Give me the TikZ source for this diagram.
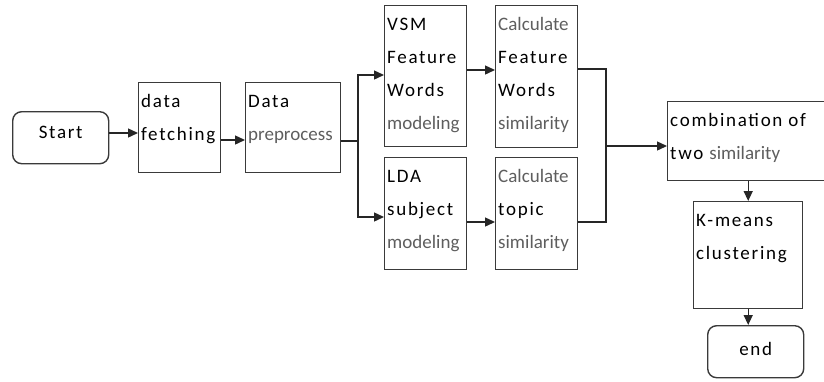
\documentclass[tikz,border=0pt]{standalone}
\usepackage{fontspec}
\setmainfont{Carlito}
\newfontfamily\blkfont[LetterSpace=9]{Carlito}
\usetikzlibrary{calc,arrows.meta}
\definecolor{gtxt}{HTML}{5E5E5E}
\definecolor{bline}{HTML}{3A3A3A}
\newcommand\gtx[1]{{\rmfamily\color{gtxt}#1}}
\newcommand\boxlines[2]{%
  \foreach \t [count=\i] in {#2} {%
    \node[bt] (#1-l\i) at ($(#1.north west)+(3,{25+33*(\i-1)})$) {\t};}}
\begin{document}
\begin{tikzpicture}[x=1pt,y=-1pt,
  box/.style={draw=bline,line width=1.4pt,inner sep=0,anchor=north west},
  term/.style={box,rounded corners=9pt},
  arr/.style={draw=black!85,line width=1.4pt,-{Triangle[length=10pt,width=9pt]}},
  ln/.style={draw=black!85,line width=1.4pt},
  bt/.style={font=\blkfont\fontsize{19}{22}\selectfont,inner sep=0,anchor=base west}]
\useasboundingbox (0,0) rectangle (824,381);

% boxes
\node[term,minimum width=96pt,minimum height=52pt] (start) at (12,111) {};
\node[box,minimum width=82pt,minimum height=90pt] (fetch) at (138,82) {};
\node[box,minimum width=95pt,minimum height=90pt] (prep) at (245,82) {};
\node[box,minimum width=82pt,minimum height=141pt] (vsm) at (384,5) {};
\node[box,minimum width=82pt,minimum height=112pt] (lda) at (384,157) {};
\node[box,minimum width=82pt,minimum height=142pt] (cfw) at (495,5) {};
\node[box,minimum width=82pt,minimum height=112pt] (ctop) at (495,157) {};
\node[box,minimum width=170pt,minimum height=79pt] (comb) at (667,101) {};
\node[box,minimum width=109pt,minimum height=107pt] (km) at (693,201) {};
\node[term,minimum width=96pt,minimum height=52pt] (endn) at (707,325) {};

% texts
\node[bt,anchor=base] (start-t) at ($(start.center)+(0,1)$) {Start};
\node[bt,anchor=base] (end-t) at ($(endn.center)+(0,4)$) {end};
\boxlines{fetch}{data,fetching}
\boxlines{prep}{Data,\gtx{preprocess}}
\boxlines{vsm}{VSM,Feature,Words,\gtx{modeling}}
\boxlines{lda}{LDA,subject,\gtx{modeling}}
\boxlines{cfw}{\gtx{Calculate},Feature,Words,\gtx{similarity}}
\boxlines{ctop}{\gtx{Calculate},topic,\gtx{similarity}}
\boxlines{comb}{combination of,two \gtx{similarity}}
\boxlines{km}{K-means,clustering}

% connectors
\coordinate (sp) at (358,141);
\coordinate (jn) at (606,146);
\draw[arr] (start.east |- 0,133) -- (fetch.west |- 0,133);
\draw[arr] (fetch.east |- 0,140) -- (prep.west |- 0,140);
\draw[ln] (prep.east |- sp) -- (sp);
\draw[arr] (sp) |- (vsm.west |- 0,75);
\draw[arr] (sp) |- (lda.west |- 0,217);
\draw[arr] (vsm.east |- 0,70) -- (cfw.west |- 0,70);
\draw[arr] (lda.east |- 0,222) -- (ctop.west |- 0,222);
\draw[ln] (cfw.east |- 0,69) -| (jn);
\draw[ln] (ctop.east |- 0,222) -| (jn);
\draw[arr] (jn) -- (comb.west |- jn);
\draw[arr] (km.north |- comb.south) -- (km.north);
\draw[arr] (km.south) -- (km.south |- endn.north);
\end{tikzpicture}
\end{document}
